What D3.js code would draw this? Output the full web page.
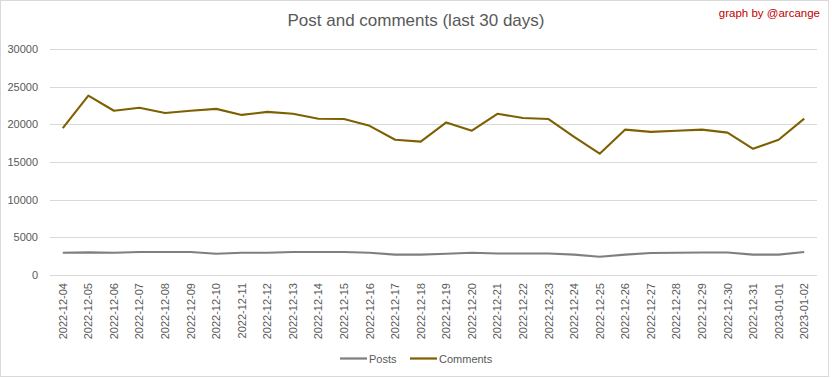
<!DOCTYPE html>
<html>
<head>
<meta charset="utf-8">
<script src="https://cdn.jsdelivr.net/npm/d3@7"></script>
<style>
  body { margin: 0; background: #fff; }
  text { font-family: "Liberation Sans", Arial, sans-serif; }
</style>
</head>
<body>
<div id="chart"></div>
<script>
// Data
let dates = ["2022-12-04","2022-12-05","2022-12-06","2022-12-07","2022-12-08","2022-12-09","2022-12-10",
  "2022-12-11","2022-12-12","2022-12-13","2022-12-14","2022-12-15","2022-12-16","2022-12-17","2022-12-18",
  "2022-12-19","2022-12-20","2022-12-21","2022-12-22","2022-12-23","2022-12-24","2022-12-25","2022-12-26",
  "2022-12-27","2022-12-28","2022-12-29","2022-12-30","2022-12-31","2023-01-01","2023-01-02"];
let posts = [2950,3000,2950,3050,3050,3050,2830,2950,2950,3050,3050,3050,2950,2700,2700,
  2830,2950,2850,2850,2850,2700,2430,2700,2920,2950,2980,2980,2700,2700,3050];
let comments = [19500,23800,21800,22200,21500,21800,22050,21250,21650,21400,20750,20700,19800,17950,17700,
  20250,19150,21400,20850,20700,18350,16100,19300,19000,19150,19300,18900,16750,17950,20750];
let yTicks = [0,5000,10000,15000,20000,25000,30000];
let seriesNames = ["Posts","Comments"];
let seriesColors = ["#7f7f7f","#7f6000"];

let width = 832, height = 378;
let plotLeft = 50, plotRight = 817, plotTop = 49, plotBottom = 275;

let svg = d3.select("#chart").append("svg")
  .attr("width", width)
  .attr("height", height);

// outer border
svg.append("rect")
  .attr("x", 0.5).attr("y", 0.5)
  .attr("width", width - 4).attr("height", height - 2)
  .attr("fill", "#fff")
  .attr("stroke", "#d9d9d9");

let xScale = d3.scaleBand().domain(dates).range([plotLeft, plotRight]);
let yScale = d3.scaleLinear().domain([0, 30000]).range([plotBottom, plotTop]);

// gridlines
svg.append("g")
  .selectAll("line")
  .data(yTicks)
  .enter()
  .append("line")
  .attr("x1", plotLeft).attr("x2", plotRight)
  .attr("y1", d => Math.round(yScale(d)) + 0.5)
  .attr("y2", d => Math.round(yScale(d)) + 0.5)
  .attr("stroke", "#d9d9d9")
  .attr("stroke-width", 1);

// y labels
svg.append("g")
  .selectAll("text")
  .data(yTicks)
  .enter()
  .append("text")
  .attr("x", 38)
  .attr("y", d => yScale(d) + 4)
  .attr("text-anchor", "end")
  .attr("font-size", 11)
  .attr("fill", "#595959")
  .text(d => d);

// x labels, rotated
svg.append("g")
  .selectAll("text")
  .data(dates)
  .enter()
  .append("text")
  .attr("transform", d => "translate(" + (xScale(d) + xScale.bandwidth() / 2 + 4) + "," + (plotBottom + 8) + ") rotate(-90)")
  .attr("text-anchor", "end")
  .attr("font-size", 11)
  .attr("fill", "#595959")
  .text(d => d);

// lines
let line = d3.line()
  .x((d, i) => xScale(dates[i]) + xScale.bandwidth() / 2)
  .y(d => yScale(d));

[posts, comments].forEach((s, k) => {
  svg.append("path")
    .datum(s)
    .attr("d", line)
    .attr("fill", "none")
    .attr("stroke", seriesColors[k])
    .attr("stroke-width", 2.1)
    .attr("stroke-linejoin", "round");
});

// title
svg.append("text")
  .attr("x", 416).attr("y", 26)
  .attr("text-anchor", "middle")
  .attr("font-size", 17)
  .attr("fill", "#595959")
  .text("Post and comments (last 30 days)");

svg.append("text")
  .attr("x", 820).attr("y", 17)
  .attr("text-anchor", "end")
  .attr("font-size", 11.5)
  .attr("fill", "#c00000")
  .text("graph by @arcange");

// legend
let legendX = [340, 410];
let legend = svg.append("g")
  .selectAll("g")
  .data(seriesNames)
  .enter()
  .append("g")
  .attr("transform", (d, i) => "translate(" + legendX[i] + ",358.5)");

legend.append("line")
  .attr("x1", 0).attr("x2", 27)
  .attr("stroke", (d, i) => seriesColors[i])
  .attr("stroke-width", 2.25);

legend.append("text")
  .attr("x", 29).attr("y", 4)
  .attr("font-size", 11)
  .attr("fill", "#595959")
  .text(d => d);
</script>
</body>
</html>
